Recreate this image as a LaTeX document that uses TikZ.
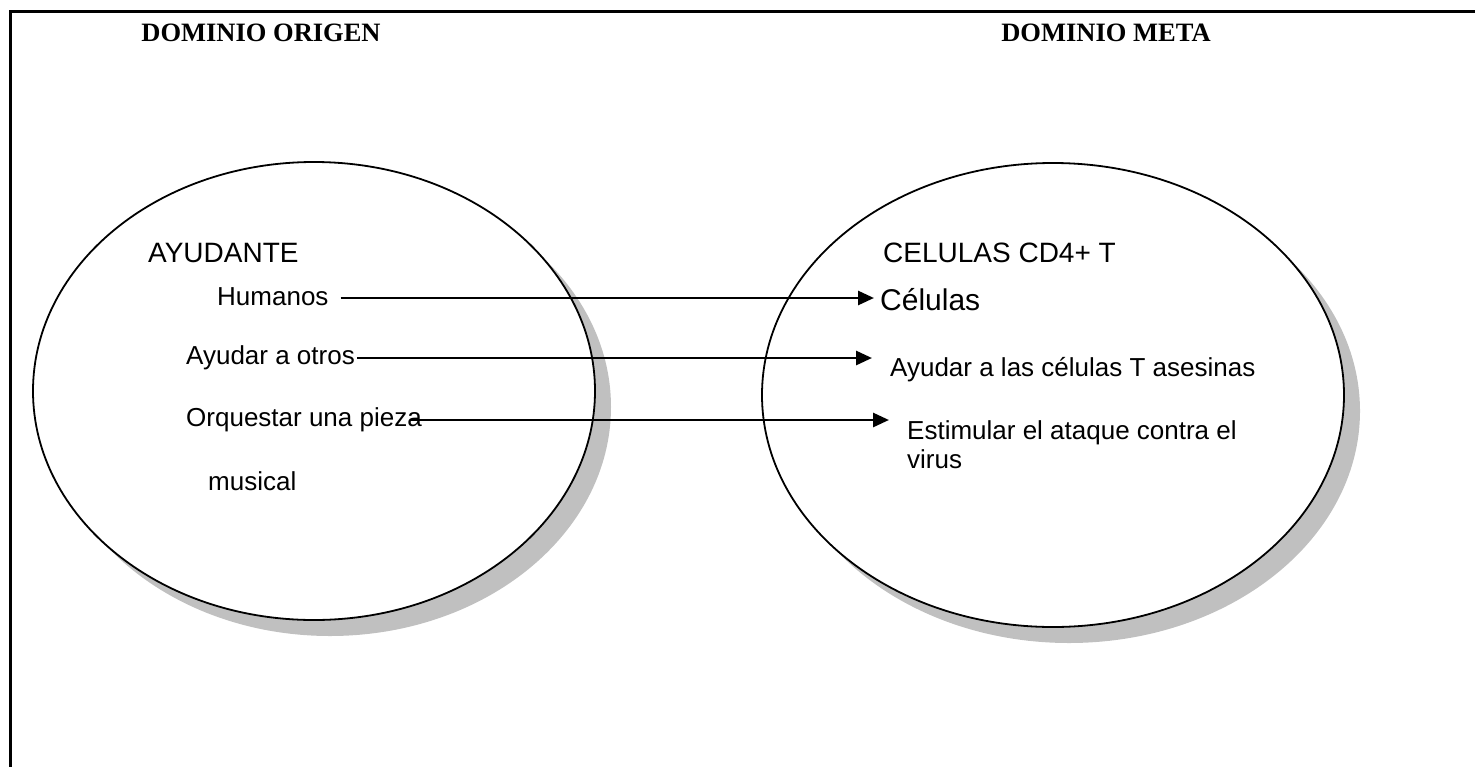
\documentclass[tikz,border=0pt]{standalone}
\usepackage{fontspec}
\setmainfont{Liberation Serif}
\newfontfamily\arial{Liberation Sans}
\usetikzlibrary{arrows.meta,calc}
\definecolor{shade}{RGB}{192,192,192}
\tikzset{
  titletext/.style={font=\fontsize{26.5}{31}\selectfont\bfseries, inner sep=0pt},
  lbl/.style={font=\arial\fontsize{26}{29}\selectfont, inner sep=0pt, anchor=west, align=left},
  headtext/.style={font=\arial\fontsize{28}{32}\selectfont, inner sep=0pt, anchor=west},
  bubble/.style={draw=black, line width=1.8pt, fill=white},
  shadowfill/.style={fill=shade, draw=none},
  arr/.style={line width=2.8pt, -{Triangle[length=16pt,width=14pt]}},
}
\begin{document}
\begin{tikzpicture}[x=1pt,y=-1pt]
\useasboundingbox (0,0) rectangle (1475,766);
\draw[line width=3pt] (10,770) -- (10,11) -- (1480,11);
% titles
\node[titletext] (t1) at (261,33) {DOMINIO ORIGEN};
\node[titletext] (t2) at (1106,33) {DOMINIO META};
% ellipses with shadow
\fill[shadowfill] (330,407) ellipse [x radius=281, y radius=229];
\draw[bubble] (314,391) ellipse [x radius=281, y radius=229];
\fill[shadowfill] (1069,411) ellipse [x radius=291, y radius=232];
\draw[bubble] (1053,395) ellipse [x radius=291, y radius=232];
% texts
\node[headtext] (ayu) at (148,253) {AYUDANTE};
\node[headtext] (cel4) at (883,253) {CELULAS CD4+ T};
\node[headtext, font=\arial\fontsize{30}{34}\selectfont] (cel) at (880,300) {Células};
\node[lbl] (hum) at (217,297) {Humanos};
\node[lbl] (aot) at (186,358) {Ayudar a otros};
\node[lbl] (acl) at (890,370) {Ayudar a las células T asesinas};
\node[lbl] (orq) at (186,420) {Orquestar una pieza};
\node[lbl, anchor=north west] (est) at (907,420) {Estimular el ataque contra el\\virus};
\node[lbl] (mus) at (208,481) {musical};
% connectors
\coordinate (h1) at ($(hum.east)+(12,1)$);
\coordinate (h2) at (874,298);
\coordinate (a1) at ($(aot.east)+(2,0)$);
\coordinate (a2) at (872,358);
\coordinate (o1) at ($(orq.east)+(-12,0)$);
\coordinate (o2) at (889,420);
\draw[arr] (h1) -- (h2);
\draw[arr] (a1) -- (a2);
\draw[arr] (o1) -- (o2);
\end{tikzpicture}
\end{document}
